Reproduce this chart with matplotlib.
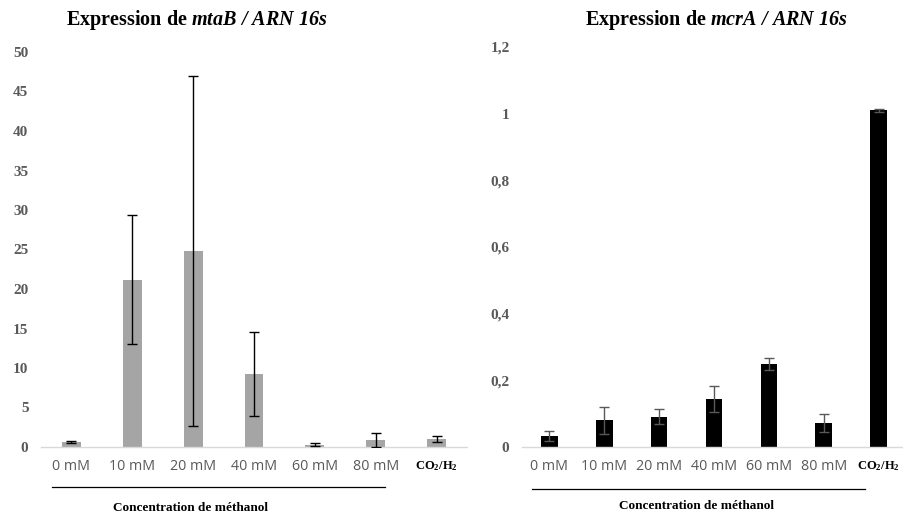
import matplotlib
matplotlib.use("Agg")
import matplotlib.pyplot as plt
import numpy as np

plt.rcParams['mathtext.fontset'] = 'custom'
plt.rcParams['mathtext.rm'] = 'Liberation Serif:italic:bold'
plt.rcParams['mathtext.it'] = 'Liberation Serif:italic:bold'
plt.rcParams['mathtext.bf'] = 'Liberation Serif:bold'

categories = ['0 mM', '10 mM', '20 mM', '40 mM', '60 mM', '80 mM', 'CO2/H2']
mtab_values = [0.6, 21.2, 24.8, 9.2, 0.3, 0.9, 1.0]
mtab_errors = [0.1, 8.2, 22.2, 5.3, 0.2, 0.9, 0.35]
mcra_values = [0.033, 0.080, 0.091, 0.144, 0.248, 0.072, 1.010]
mcra_errors = [0.016, 0.040, 0.022, 0.039, 0.018, 0.027, 0.004]
left_yticks = [0, 5, 10, 15, 20, 25, 30, 35, 40, 45, 50]
left_yticklabels = ['0', '5', '10', '15', '20', '25', '30', '35', '40', '45', '50']
right_yticks = [0, 0.2, 0.4, 0.6, 0.8, 1.0, 1.2]
right_yticklabels = ['0', '0,2', '0,4', '0,6', '0,8', '1', '1,2']
title_left = r'Expression de $\mathit{mtaB\ /\ ARN\ 16s}$'
title_right = r'Expression de $\mathit{mcrA\ /\ ARN\ 16s}$'
xlabel_text = 'Concentration de méthanol'

W, H = 904, 517
fig = plt.figure(figsize=(W / 100, H / 100), dpi=100)

def fx(px):
    return px / W

def fy(py):
    return 1 - py / H

gray_txt = '#595959'

def setup(ax, yticks, yticklabels, ylim, ypad):
    ax.set_ylim(*ylim)
    ax.set_yticks(yticks)
    ax.set_yticklabels(yticklabels, fontfamily='Liberation Serif', fontweight='bold',
                       fontsize=11, color=gray_txt)
    for s in ['top', 'right', 'left']:
        ax.spines[s].set_visible(False)
    ax.spines['bottom'].set_color('#d9d9d9')
    ax.spines['bottom'].set_linewidth(1.0)
    ax.tick_params(axis='both', length=0)
    ax.tick_params(axis='y', pad=ypad)
    ax.tick_params(axis='x', pad=9)
    x = np.arange(len(categories))
    ax.set_xticks(x)
    labels = categories[:-1] + [r'$\mathbf{CO_2/H_2}$']
    ax.set_xticklabels(labels, fontfamily='Open Sans', fontsize=10.3, color=gray_txt)
    tl = ax.get_xticklabels()[-1]
    tl.set_color('black')
    tl.set_fontsize(9)
    return x

# Left chart
axL = fig.add_axes([fx(41), fy(447), fx(467 - 41), (447 - 52) / H])
xL = setup(axL, left_yticks, left_yticklabels, (0, 50), 9)
axL.set_xlim(-0.5, 6.5)
axL.bar(xL, mtab_values, width=0.31, color='#a5a5a5', zorder=2)
axL.errorbar(xL, mtab_values, yerr=mtab_errors, fmt='none', ecolor='black',
             elinewidth=1.0, capsize=3.5, capthick=1.0, zorder=3)

# Right chart
axR = fig.add_axes([fx(522), fy(447), fx(904 - 522), (447 - 47) / H])
xR = setup(axR, right_yticks, right_yticklabels, (0, 1.2), 9)
axR.set_xlim(-0.5, 6.5 - 2 / 54.8)
axR.bar(xR, mcra_values, width=0.30, color='black', zorder=2)
axR.errorbar(xR, mcra_values, yerr=mcra_errors, fmt='none', ecolor='#595959',
             elinewidth=1.0, capsize=3.5, capthick=1.0, zorder=3)

# Titles
fig.text(fx(197), fy(20), title_left, ha='center', va='center',
         fontfamily='Liberation Serif', fontweight='bold', fontsize=14.5)
fig.text(fx(717), fy(20), title_right, ha='center', va='center',
         fontfamily='Liberation Serif', fontweight='bold', fontsize=14.5)

# Underlines and group labels
fig.add_artist(plt.Line2D([fx(52), fx(385)], [fy(487), fy(487)], color='black', lw=0.9))
fig.add_artist(plt.Line2D([fx(532), fx(865)], [fy(489), fy(489)], color='black', lw=0.9))
fig.text(fx(191), fy(508), xlabel_text, ha='center', va='center',
         fontfamily='Liberation Serif', fontweight='bold', fontsize=9.5)
fig.text(fx(697), fy(506), xlabel_text, ha='center', va='center',
         fontfamily='Liberation Serif', fontweight='bold', fontsize=9.5)

fig.savefig('out.png', dpi=100)
